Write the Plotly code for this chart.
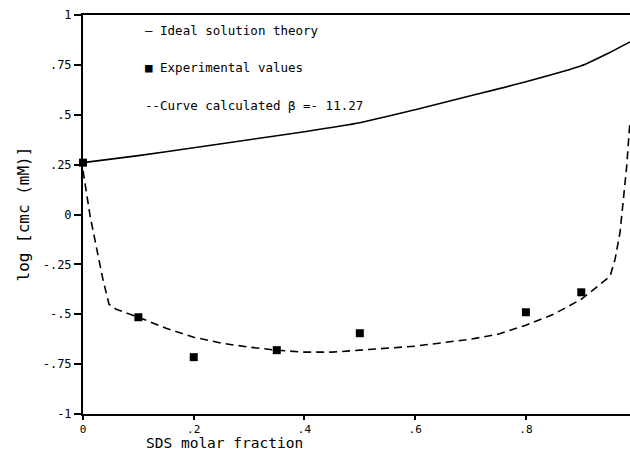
import plotly.graph_objects as go

# Ideal mixed-micelle prediction (solid line)
ideal_x = [0.0, 0.1, 0.2, 0.3, 0.4, 0.5, 0.6, 0.7, 0.8, 0.9, 0.95, 0.988]
ideal_y = [0.26, 0.295, 0.335, 0.375, 0.415, 0.46, 0.525, 0.595, 0.665, 0.745, 0.81, 0.865]

# Measured cmc values
exp_x = [0.0, 0.1, 0.2, 0.35, 0.5, 0.8, 0.9]
exp_y = [0.26, -0.515, -0.715, -0.68, -0.595, -0.49, -0.39]

# Regular-solution curve with beta = -11.27 (dashed line)
calc_x = [0.0, 0.013, 0.025, 0.036, 0.047, 0.06, 0.1, 0.15, 0.2, 0.25, 0.3, 0.35,
          0.4, 0.45, 0.5, 0.6, 0.7, 0.75, 0.8, 0.85, 0.9, 0.952, 0.961, 0.97,
          0.976, 0.982, 0.988]
calc_y = [0.22, -0.01, -0.175, -0.325, -0.45, -0.475, -0.515, -0.57, -0.615, -0.645,
          -0.665, -0.68, -0.69, -0.69, -0.68, -0.66, -0.625, -0.6, -0.555, -0.5,
          -0.425, -0.31, -0.225, -0.09, 0.075, 0.24, 0.47]

x_ticks = [0, 0.2, 0.4, 0.6, 0.8]
x_labels = ["0", ".2", ".4", ".6", ".8"]
y_ticks = [1, 0.75, 0.5, 0.25, 0, -0.25, -0.5, -0.75, -1]
y_labels = ["1", ".75", ".5", ".25", "0", "-.25", "-.5", "-.75", "-1"]

MONO = "DejaVu Sans Mono"

fig = go.Figure()
fig.add_trace(go.Scatter(x=ideal_x, y=ideal_y, mode="lines",
                         line=dict(color="black", width=1.6, shape="spline", smoothing=0.6),
                         cliponaxis=False))
fig.add_trace(go.Scatter(x=calc_x, y=calc_y, mode="lines",
                         line=dict(color="black", width=1.6, dash="8px,5px"),
                         cliponaxis=False))
fig.add_trace(go.Scatter(x=exp_x, y=exp_y, mode="markers",
                         marker=dict(symbol="square", size=8, color="black"),
                         cliponaxis=False))

legend_lines = [
    ("\u2014 Ideal solution theory", 0.92),
    ("\u25a0 Experimental values", 0.735),
    ("--Curve calculated \u03b2 =- 11.27", 0.545),
]
for text, yy in legend_lines:
    fig.add_annotation(x=0.108, y=yy, xref="x", yref="y", text=text,
                       showarrow=False, xanchor="left", yanchor="middle",
                       font=dict(family=MONO, size=12.5, color="black"))

fig.add_annotation(x=0.0, y=0.0, xref="paper", yref="paper",
                   text="SDS molar fraction", showarrow=False,
                   xshift=62, yshift=-20, xanchor="left", yanchor="top",
                   borderpad=0,
                   font=dict(family=MONO, size=14.5, color="black"))
fig.add_annotation(x=0.0, y=0.5, xref="paper", yref="paper",
                   text="log [cmc (mM)]", showarrow=False, textangle=-90,
                   xshift=-60, xanchor="center", yanchor="middle",
                   font=dict(family=MONO, size=16, color="black"))

fig.update_layout(
    width=630, height=455,
    margin=dict(l=83, r=0, t=15, b=41),
    paper_bgcolor="white", plot_bgcolor="white",
    showlegend=False,
    xaxis=dict(range=[0, 0.988], tickvals=x_ticks, ticktext=x_labels,
               showgrid=False, zeroline=False, showline=True, linecolor="black",
               linewidth=2, mirror=True, ticks="outside", ticklen=4,
               tickwidth=1.5, tickcolor="black",
               tickfont=dict(family=MONO, size=11, color="black")),
    yaxis=dict(range=[-1, 1], tickvals=y_ticks, ticktext=y_labels,
               showgrid=False, zeroline=False, showline=True, linecolor="black",
               linewidth=2, ticks="outside", ticklen=7, tickwidth=1.5,
               tickcolor="black",
               tickfont=dict(family=MONO, size=12, color="black")),
)

fig.write_html("out.html")
